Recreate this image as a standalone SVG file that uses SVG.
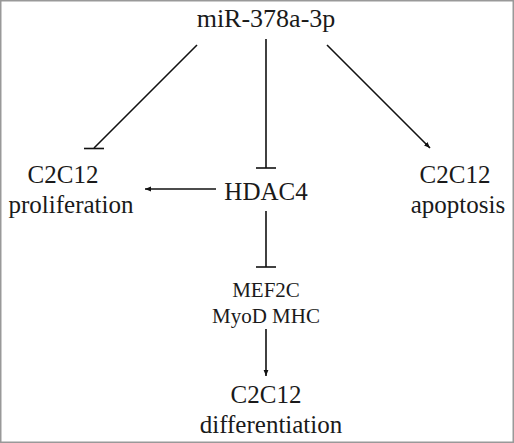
<svg xmlns="http://www.w3.org/2000/svg" width="514" height="443" viewBox="0 0 514 443">
<defs>
<style>
text{font-family:"Liberation Serif","Times New Roman",serif;fill:#1a1a1a;text-anchor:middle}
.l{font-size:25px}
.s{font-size:21px}
.t{font-size:26px}
.c line{stroke:#111;stroke-width:1.6;fill:none}
</style>
<marker id="arr" viewBox="0 0 10 10" refX="10" refY="5" markerWidth="6" markerHeight="6" orient="auto" markerUnits="userSpaceOnUse">
<path d="M0,1 L10,5 L0,9 z" fill="#111"/>
</marker>
</defs>
<rect x="0.75" y="0.75" width="512.5" height="441.5" fill="#fff" stroke="#999" stroke-width="1.5"/>
<g class="c" id="connectors">
<line x1="197" y1="45" x2="94" y2="148"/>
<line x1="84" y1="148.5" x2="104" y2="148.5"/>
<line x1="266" y1="39" x2="266" y2="168"/>
<line x1="256" y1="168" x2="276" y2="168"/>
<line x1="327" y1="45" x2="430" y2="148" marker-end="url(#arr)"/>
<line x1="216" y1="189" x2="145" y2="189" marker-end="url(#arr)"/>
<line x1="266" y1="211" x2="266" y2="267"/>
<line x1="256" y1="267" x2="276" y2="267"/>
<line x1="266" y1="329" x2="266" y2="376" marker-end="url(#arr)"/>
</g>
<g id="mir"><text class="t" x="266" y="27">miR-378a-3p</text></g>
<g id="prolif"><text class="l" x="63" y="183">C2C12</text><text class="l" x="71" y="213">proliferation</text></g>
<g id="hdac4"><text class="l" x="266" y="200">HDAC4</text></g>
<g id="apop"><text class="l" x="455" y="183">C2C12</text><text class="l" x="458" y="213">apoptosis</text></g>
<g id="mef2c"><text class="s" x="266" y="297">MEF2C</text><text class="s" x="266" y="323">MyoD MHC</text></g>
<g id="diff"><text class="l" x="266" y="403">C2C12</text><text class="l" x="271" y="433">differentiation</text></g>
</svg>
